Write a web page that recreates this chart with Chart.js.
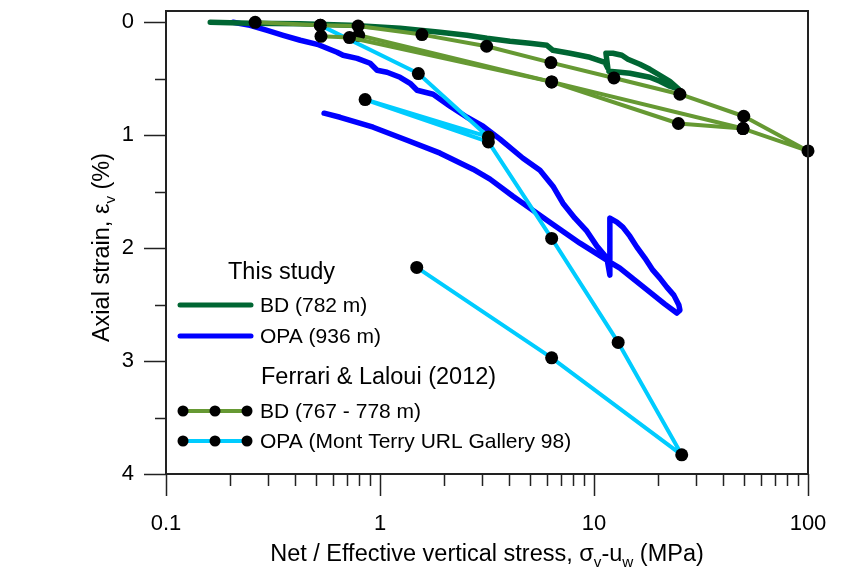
<!DOCTYPE html>
<html>
<head>
<meta charset="utf-8">
<script src="https://cdn.jsdelivr.net/npm/chart.js@4.4.1/dist/chart.umd.min.js"></script>
<style>
  html, body { margin: 0; padding: 0; background: #fff; }
  #wrap { width: 845px; height: 571px; }
</style>
</head>
<body>
<div id="wrap"><canvas id="chart"></canvas></div>
<script>
// This study, BD (782 m): net vertical stress (MPa) vs axial strain (%)
const bdStudyStress = [0.161, 0.247, 0.424, 0.725, 1.241, 1.909, 2.551, 3.162, 4.051, 5.02,
  6.027, 6.43, 7.72, 9.57, 11.24, 11.61, 11.37, 12.25, 13.50, 14.40,
  16.38, 18.24, 20.31, 22.61, 24.92, 22.61, 20.31, 18.24, 16.38, 14.71,
  13.21, 11.74]
const bdStudyStrain = [0.000, 0.009, 0.013, 0.027, 0.053, 0.088, 0.115, 0.142, 0.168, 0.186,
  0.204, 0.248, 0.274, 0.310, 0.354, 0.407, 0.274, 0.274, 0.292, 0.327,
  0.372, 0.416, 0.469, 0.522, 0.593, 0.566, 0.522, 0.487, 0.469, 0.451,
  0.442, 0.434]

// This study, OPA (936 m)
const opaStudyStress = [0.206, 0.247, 0.297, 0.353, 0.424, 0.509, 0.566, 0.630, 0.672, 0.782,
  0.899, 0.969, 1.079, 1.241, 1.382, 1.490, 1.770, 2.125, 2.551, 3.029,
  3.637, 4.657, 5.590, 6.430, 7.157, 8.143, 9.266, 10.31, 11.49, 11.86,
  11.86, 13.21, 15.52, 18.24, 21.43, 24.38, 25.2, 24.92, 23.60, 21.89,
  20.31, 18.84, 17.29, 15.86, 14.71, 13.64, 12.79, 11.86, 11.86, 11.49,
  8.597, 6.027, 4.182, 3.266, 2.720, 1.909, 1.338, 0.929, 0.651, 0.548]
const opaStudyStrain = [0.000, 0.027, 0.071, 0.115, 0.159, 0.195, 0.230, 0.265, 0.292, 0.319,
  0.363, 0.425, 0.442, 0.487, 0.540, 0.602, 0.637, 0.743, 0.841, 0.920,
  1.035, 1.204, 1.310, 1.451, 1.602, 1.735, 1.850, 1.982, 2.088, 2.239,
  2.124, 2.177, 2.283, 2.389, 2.496, 2.575, 2.549, 2.504, 2.416, 2.345,
  2.265, 2.195, 2.088, 1.991, 1.894, 1.814, 1.770, 1.735, 2.106, 2.106,
  1.956, 1.752, 1.540, 1.389, 1.301, 1.159, 1.044, 0.929, 0.841, 0.805]

// Ferrari & Laloui (2012), BD (767 - 778 m)
const bdFerrariStressA = [0.261, 0.526, 0.79, 1.57, 3.15, 6.29, 12.39, 25.2, 50.1, 100, 49.7, 6.34, 0.72, 0.53]
const bdFerrariStrainA = [0.000, 0.027, 0.033, 0.109, 0.212, 0.357, 0.493, 0.637, 0.832, 1.139, 0.941, 0.528, 0.135, 0.124]
const bdFerrariStressB = [0.795, 6.34, 24.8, 49.7]
const bdFerrariStrainB = [0.115, 0.528, 0.896, 0.941]

// Ferrari & Laloui (2012), OPA (Mont Terry URL Gallery 98)
const opaFerrariStress = [0.527, 1.511, 3.21, 0.852, 3.21, 6.34, 12.97, 25.7, 6.34, 1.485]
const opaFerrariStrain = [0.027, 0.454, 1.015, 0.684, 1.059, 1.914, 2.835, 3.83, 2.971, 2.171]

const xTickValues = [0.1, 1, 10, 100]
const yTickValues = [0, 1, 2, 3, 4]
const yMinorValues = [0.5, 1.5, 2.5, 3.5]

const colors = {
  bdStudy: '#006633',
  opaStudy: '#0000ff',
  bdFerrari: '#669933',
  opaFerrari: '#00ccff'
}

const FONT = "'Liberation Sans', Arial, Helvetica, sans-serif"

function toPoints(xs, ys) {
  return xs.map((x, i) => ({ x: x, y: ys[i] }))
}

function ferrariSet(label, xs, ys, color) {
  return {
    label: label,
    data: toPoints(xs, ys),
    showLine: true,
    borderColor: color,
    borderWidth: 4,
    borderJoinStyle: 'round',
    pointRadius: 6.5,
    pointBackgroundColor: '#000',
    pointBorderWidth: 0,
    clip: false
  }
}

function studySet(label, xs, ys, color) {
  return {
    label: label,
    data: toPoints(xs, ys),
    showLine: true,
    borderColor: color,
    borderWidth: 5.5,
    borderJoinStyle: 'round',
    borderCapStyle: 'round',
    pointRadius: 0
  }
}

// keep the plot box fixed: no extra room for the end tick labels
function fixBox(size) {
  return function(scale) {
    if (scale.isHorizontal()) scale.height = size
    else scale.width = size
    scale.paddingTop = 0
    scale.paddingBottom = 0
    scale.paddingLeft = 0
    scale.paddingRight = 0
  }
}

// draws a line of text where some parts are subscripts; x is the centre
function drawRichText(ctx, parts, x, y, size) {
  const subSize = size * 0.65
  let width = 0
  parts.forEach(p => {
    ctx.font = (p.sub ? subSize : size) + 'px ' + FONT
    p.w = ctx.measureText(p.t).width
    width += p.w
  })
  let cx = x - width / 2
  const base = y + size * 0.36
  ctx.textAlign = 'left'
  ctx.textBaseline = 'alphabetic'
  parts.forEach(p => {
    ctx.font = (p.sub ? subSize : size) + 'px ' + FONT
    ctx.fillText(p.t, cx, p.sub ? base + size * 0.22 : base)
    cx += p.w
  })
}

// frame, outward ticks and axis titles
const axesPlugin = {
  id: 'axesPlugin',
  afterDraw(chart) {
    const ctx = chart.ctx
    const area = chart.chartArea
    const xs = chart.scales.x
    const ys = chart.scales.y
    ctx.save()
    ctx.strokeStyle = '#222'
    ctx.lineWidth = 2
    ctx.strokeRect(area.left, area.top, area.right - area.left, area.bottom - area.top)

    ctx.lineWidth = 1.5
    ctx.beginPath()
    xTickValues.forEach(v => {
      const px = Math.round(xs.getPixelForValue(v)) + 0.5
      ctx.moveTo(px, area.bottom)
      ctx.lineTo(px, area.bottom + 22)
    })
    for (let d = 0.1; d < 100; d *= 10) {
      for (let m = 2; m <= 9; m++) {
        const px = Math.round(xs.getPixelForValue(d * m)) + 0.5
        ctx.moveTo(px, area.bottom)
        ctx.lineTo(px, area.bottom + 12)
      }
    }
    yTickValues.forEach(v => {
      const py = Math.round(ys.getPixelForValue(v)) + 0.5
      ctx.moveTo(area.left, py)
      ctx.lineTo(area.left - 22, py)
    })
    yMinorValues.forEach(v => {
      const py = Math.round(ys.getPixelForValue(v)) + 0.5
      ctx.moveTo(area.left, py)
      ctx.lineTo(area.left - 11, py)
    })
    ctx.stroke()

    ctx.fillStyle = '#000'
    drawRichText(ctx, [
      { t: 'Net / Effective vertical stress, ' },
      { t: 'σ' }, { t: 'v', sub: true },
      { t: '-u' }, { t: 'w', sub: true },
      { t: ' (MPa)' }
    ], (area.left + area.right) / 2, 553, 23.5)

    ctx.translate(101, (area.top + area.bottom) / 2 + 5)
    ctx.rotate(-Math.PI / 2)
    drawRichText(ctx, [
      { t: 'Axial strain, ' },
      { t: 'ε' }, { t: 'v', sub: true },
      { t: ' (%)' }
    ], 0, 0, 23.5)
    ctx.restore()
  }
}

// legend with the two group headings
const legendPlugin = {
  id: 'legendPlugin',
  afterDraw(chart) {
    const ctx = chart.ctx
    ctx.save()
    ctx.fillStyle = '#000'
    ctx.textAlign = 'left'
    ctx.textBaseline = 'middle'

    ctx.font = '23.5px ' + FONT
    ctx.fillText('This study', 228, 273)
    ctx.fillText('Ferrari & Laloui (2012)', 261, 378)

    const rows = [
      { text: 'BD (782 m)', color: colors.bdStudy, y: 305, dots: false },
      { text: 'OPA (936 m)', color: colors.opaStudy, y: 336, dots: false },
      { text: 'BD (767 - 778 m)', color: colors.bdFerrari, y: 411, dots: true },
      { text: 'OPA (Mont Terry URL Gallery 98)', color: colors.opaFerrari, y: 441, dots: true }
    ]
    rows.forEach(r => {
      ctx.strokeStyle = r.color
      ctx.lineCap = 'round'
      ctx.lineWidth = r.dots ? 4 : 5
      ctx.beginPath()
      if (r.dots) {
        ctx.moveTo(183, r.y)
        ctx.lineTo(247, r.y)
      } else {
        ctx.moveTo(180, r.y)
        ctx.lineTo(251, r.y)
      }
      ctx.stroke()
      if (r.dots) {
        ctx.fillStyle = '#000'
        ;[183, 215, 247].forEach(x => {
          ctx.beginPath()
          ctx.arc(x, r.y, 5.5, 0, Math.PI * 2)
          ctx.fill()
        })
      }
      ctx.fillStyle = '#000'
      ctx.font = '21px ' + FONT
      ctx.fillText(r.text, 260, r.y + 1)
    })
    ctx.restore()
  }
}

new Chart(document.getElementById('chart'), {
  type: 'scatter',
  data: {
    datasets: [
      ferrariSet('BD (767 - 778 m)', bdFerrariStressA, bdFerrariStrainA, colors.bdFerrari),
      ferrariSet('BD (767 - 778 m)', bdFerrariStressB, bdFerrariStrainB, colors.bdFerrari),
      ferrariSet('OPA (Mont Terry URL Gallery 98)', opaFerrariStress, opaFerrariStrain, colors.opaFerrari),
      studySet('BD (782 m)', bdStudyStress, bdStudyStrain, colors.bdStudy),
      studySet('OPA (936 m)', opaStudyStress, opaStudyStrain, colors.opaStudy)
    ]
  },
  options: {
    responsive: true,
    maintainAspectRatio: false,
    animation: false,
    devicePixelRatio: 1,
    layout: {
      padding: { top: 11, right: 37, left: 0, bottom: 0 }
    },
    plugins: {
      legend: { display: false },
      tooltip: { enabled: false }
    },
    scales: {
      x: {
        type: 'logarithmic',
        min: 0.1,
        max: 100,
        afterBuildTicks: function(scale) {
          scale.ticks = xTickValues.map(v => ({ value: v }))
        },
        afterFit: fixBox(97),
        ticks: {
          padding: 37,
          autoSkip: false,
          maxRotation: 0,
          color: '#000',
          font: { family: FONT, size: 22 },
          callback: function(value) {
            return value < 1 ? value.toFixed(1) : String(value)
          }
        },
        grid: { display: false, drawTicks: false },
        border: { display: false }
      },
      y: {
        type: 'linear',
        reverse: true,
        min: -0.1,
        max: 4,
        afterBuildTicks: function(scale) {
          scale.ticks = yTickValues.map(v => ({ value: v }))
        },
        afterFit: fixBox(166),
        ticks: {
          padding: 32,
          color: '#000',
          font: { family: FONT, size: 22 }
        },
        grid: { display: false, drawTicks: false },
        border: { display: false }
      }
    }
  },
  plugins: [axesPlugin, legendPlugin]
})
</script>
</body>
</html>
